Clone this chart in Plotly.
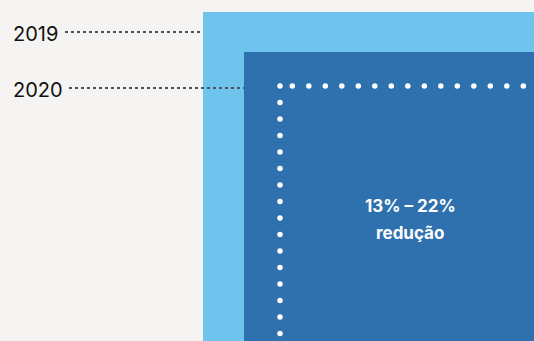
import plotly.graph_objects as go

# Data
years = ["2019", "2020"]
# nested squares: [x0, y0] top-left corner in chart units (right/bottom run off the canvas)
box_left = [203, 244]
box_top = [12, 52]
box_colors = ["#6fc4ee", "#2f70af"]
label_text = ["13% – 22%", "redução"]

W, H = 534, 341
fig = go.Figure()

# rectangles
for i, yr in enumerate(years):
    x0, y0 = box_left[i], box_top[i]
    fig.add_trace(go.Scatter(
        x=[x0, W + 5, W + 5, x0, x0], y=[y0, y0, H + 5, H + 5, y0],
        fill="toself", fillcolor=box_colors[i], line=dict(width=0),
        mode="lines", hoverinfo="skip", showlegend=False))

# leader lines
label_y = [33, 89]
line_start = [65, 69]
for i, yr in enumerate(years):
    fig.add_trace(go.Scatter(
        x=[line_start[i], box_left[i]], y=[label_y[i] - 1, label_y[i] - 1],
        mode="lines", line=dict(color="#4f545c", width=1.8, dash="dot"),
        hoverinfo="skip", showlegend=False))
    fig.add_annotation(x=11, y=label_y[i] + 1, text=yr, showarrow=False,
                       xanchor="left", yanchor="middle",
                       font=dict(family="Inter, Roboto", size=20, color="#111111"))

# white dotted corner
cx, cy, sp = 280, 86, 16.5
hx = [cx] + [cx + 12.3 + k * sp for k in range(15)]
hy = [cy] * len(hx)
vx = [cx] * 15
vy = [cy + (k + 1) * sp for k in range(15)]
fig.add_trace(go.Scatter(x=hx + vx, y=hy + vy, mode="markers",
                         marker=dict(color="white", size=5.5, line=dict(width=0)),
                         hoverinfo="skip", showlegend=False))

fig.add_annotation(x=410, y=206, text="<b>" + label_text[0] + "</b>", showarrow=False,
                   font=dict(family="Inter, Roboto", size=17, color="white"))
fig.add_annotation(x=410, y=233, text="<b>" + label_text[1] + "</b>", showarrow=False,
                   font=dict(family="Inter, Roboto", size=17, color="white"))

fig.update_layout(
    width=W, height=H, margin=dict(l=0, r=0, t=0, b=0),
    paper_bgcolor="#f5f4f2", plot_bgcolor="#f5f4f2",
    xaxis=dict(range=[0, W], visible=False, fixedrange=True),
    yaxis=dict(range=[H, 0], visible=False, fixedrange=True),
)
fig.write_html("out.html", config={"displayModeBar": False},
               post_script="document.body.style.margin='0';document.body.style.overflow='hidden';")
